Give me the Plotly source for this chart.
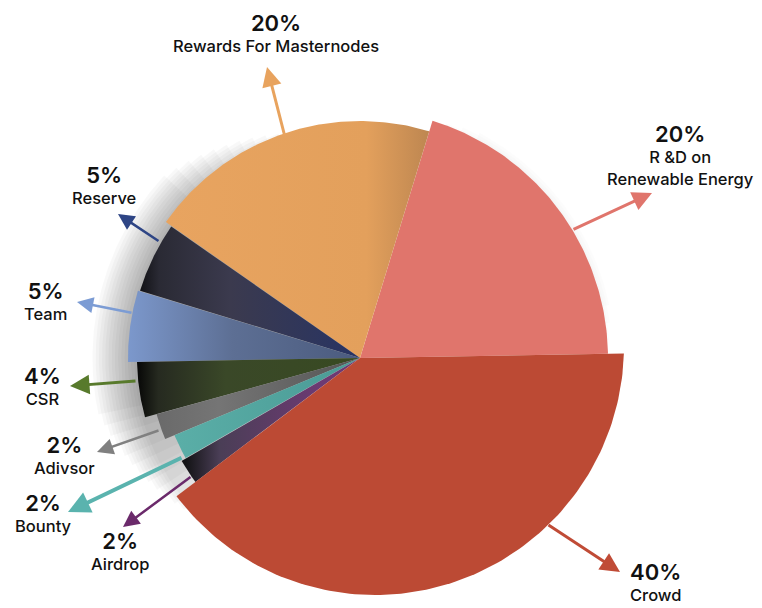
import math
import plotly.graph_objects as go

# ---------------- data ----------------
categories = ["R &D on Renewable Energy", "Rewards For Masternodes", "Reserve", "Team",
              "CSR", "Adivsor", "Bounty", "Airdrop", "Crowd"]
values = [20, 20, 5, 5, 4, 2, 2, 2, 40]
pct_labels = ["20%", "20%", "5%", "5%", "4%", "2%", "2%", "2%", "40%"]
name_labels = ["R &D on<br>Renewable Energy", "Rewards For Masternodes", "Reserve", "Team",
               "CSR", "Adivsor", "Bounty", "Airdrop", "Crowd"]

# ---------------- style ----------------
W, H = 762, 608
CX, CY = 360, 358            # pie centre (pixel units)
START_DEG = 1.0
radii = [248, 237, 230, 232, 223, 211, 201, 206, 249]
arc_offsets = [(0, 0)] * 8 + [(15, -12)]   # crowd slice arc is shifted
fills = [
    dict(color="#E0756C"),
    dict(grad=[[0, "#E8A460"], [0.72, "#E3A05C"], [1, "#B4804E"]], x0=165, x1=445),
    dict(grad=[[0, "#08080A"], [0.12, "#2A2A34"], [0.45, "#3B3A4E"], [1, "#293462"]], x0=133, x1=350),
    dict(grad=[[0, "#7C98CC"], [0.45, "#5D6F94"], [1, "#4B5B7E"]], x0=128, x1=360),
    dict(grad=[[0, "#050505"], [0.1, "#262A20"], [0.4, "#3A4828"], [1, "#384A22"]], x0=136, x1=360),
    dict(grad=[[0, "#6A6A6A"], [0.3, "#757575"], [1, "#555555"]], x0=158, x1=360),
    dict(grad=[[0, "#5AAEA7"], [1, "#4A9A95"]], x0=178, x1=360),
    dict(grad=[[0, "#141416"], [0.25, "#4A3E56"], [1, "#6D3A73"]], x0=186, x1=320),
    dict(color="#BC4A34"),
]
arrow_colors = ["#E0756C", "#E8A35E", "#2E4585", "#7C9CD4", "#587A2C",
                "#808080", "#5AB3AE", "#6B2A6B", "#C04B36"]
# arrow tail (ax, ay) and tip (x, y) in pixel units
arrows = [((572, 230), (652, 193)), ((285, 137), (267, 67)), ((160, 242), (118, 214)),
          ((133, 313), (77, 302)), ((137, 381), (70, 386)), ((160, 430), (97, 452)),
          ((183, 457), (68, 512)), ((192, 476), (123, 527)), ((547, 524), (620, 572))]
arrow_widths = [3, 3, 2.5, 2.5, 3, 2.5, 4, 2.5, 3]
# label block top-centre positions (pixel units)
label_pos = [(680, 119), (276, 8), (104, 160), (45, 276), (42, 361), (64, 430),
             (43, 488), (120, 526), (655, 557)]

FONT = "Inter"


def slice_points(a0, a1, r, off):
    ox, oy = off
    acx, acy = CX + ox, CY + oy

    def ray_hit(theta):
        dx, dy = math.cos(theta), -math.sin(theta)
        px, py = CX - acx, CY - acy
        b = dx * px + dy * py
        c = px * px + py * py - r * r
        t = -b + math.sqrt(b * b - c)
        return CX + t * dx, CY + t * dy

    p0 = ray_hit(a0)
    p1 = ray_hit(a1)
    s0 = math.atan2(-(p0[1] - acy), p0[0] - acx)
    s1 = math.atan2(-(p1[1] - acy), p1[0] - acx)
    while s1 < s0:
        s1 += 2 * math.pi
    n = 120
    xs, ys = [CX], [CY]
    for i in range(n + 1):
        s = s0 + (s1 - s0) * i / n
        xs.append(acx + r * math.cos(s))
        ys.append(acy - r * math.sin(s))
    xs.append(CX)
    ys.append(CY)
    return xs, ys


fig = go.Figure()

# soft shadow behind the left part of the pie (tapered layers)
for k in range(14):
    r = 226 + k * 3.2
    a0, a1 = math.radians(98 + k * 3.0), math.radians(226 - k * 2.6)
    xs, ys = slice_points(a0, a1, r, (0, 0))
    fig.add_trace(go.Scatter(x=xs, y=ys, mode="lines", fill="toself",
                             fillcolor="rgba(0,0,0,0.026)", line=dict(width=0),
                             hoverinfo="skip", showlegend=False))
# faint halo right of the pie
for k in range(3):
    r = 250 + k * 2.5
    xs, ys = slice_points(math.radians(4 + k * 4), math.radians(70 - k * 4), r, (0, 0))
    fig.add_trace(go.Scatter(x=xs, y=ys, mode="lines", fill="toself",
                             fillcolor="rgba(0,0,0,0.012)", line=dict(width=0),
                             hoverinfo="skip", showlegend=False))

total = sum(values)
ang = math.radians(START_DEG)
for i, v in enumerate(values):
    span = 2 * math.pi * v / total
    xs, ys = slice_points(ang, ang + span, radii[i], arc_offsets[i])
    f = fills[i]
    kw = {}
    if "grad" in f:
        kw["fillgradient"] = dict(type="horizontal", colorscale=f["grad"],
                                  start=f["x0"], stop=f["x1"])
        kw["fillcolor"] = f["grad"][-1][1]
    else:
        kw["fillcolor"] = f["color"]
    fig.add_trace(go.Scatter(x=xs, y=ys, mode="lines", fill="toself",
                             line=dict(width=0), name=categories[i],
                             hoverinfo="name", showlegend=False, **kw))
    ang += span

annotations = []
for i in range(len(values)):
    (tx, ty), (hx, hy) = arrows[i]
    annotations.append(dict(x=hx, y=hy, ax=tx, ay=ty, xref="x", yref="y",
                            axref="x", ayref="y", text="", showarrow=True,
                            arrowhead=2, arrowsize=1.3 if arrow_widths[i] < 4 else 1.1,
                            arrowwidth=arrow_widths[i], arrowcolor=arrow_colors[i]))
    txt = ("<span style='font-size:22px;font-weight:600'>" + pct_labels[i] + "</span><br>"
           + name_labels[i])
    annotations.append(dict(x=label_pos[i][0], y=label_pos[i][1], xref="x", yref="y",
                            xanchor="center", yanchor="top", align="center",
                            text=txt, showarrow=False,
                            font=dict(family=FONT, size=16.5, color="#111111", weight=500)))

fig.update_layout(
    width=W, height=H,
    margin=dict(l=0, r=0, t=0, b=0),
    paper_bgcolor="white", plot_bgcolor="white",
    xaxis=dict(range=[0, W], visible=False, fixedrange=True),
    yaxis=dict(range=[H, 0], visible=False, fixedrange=True),
    annotations=annotations,
    showlegend=False,
)

fig.write_html("out.html")
